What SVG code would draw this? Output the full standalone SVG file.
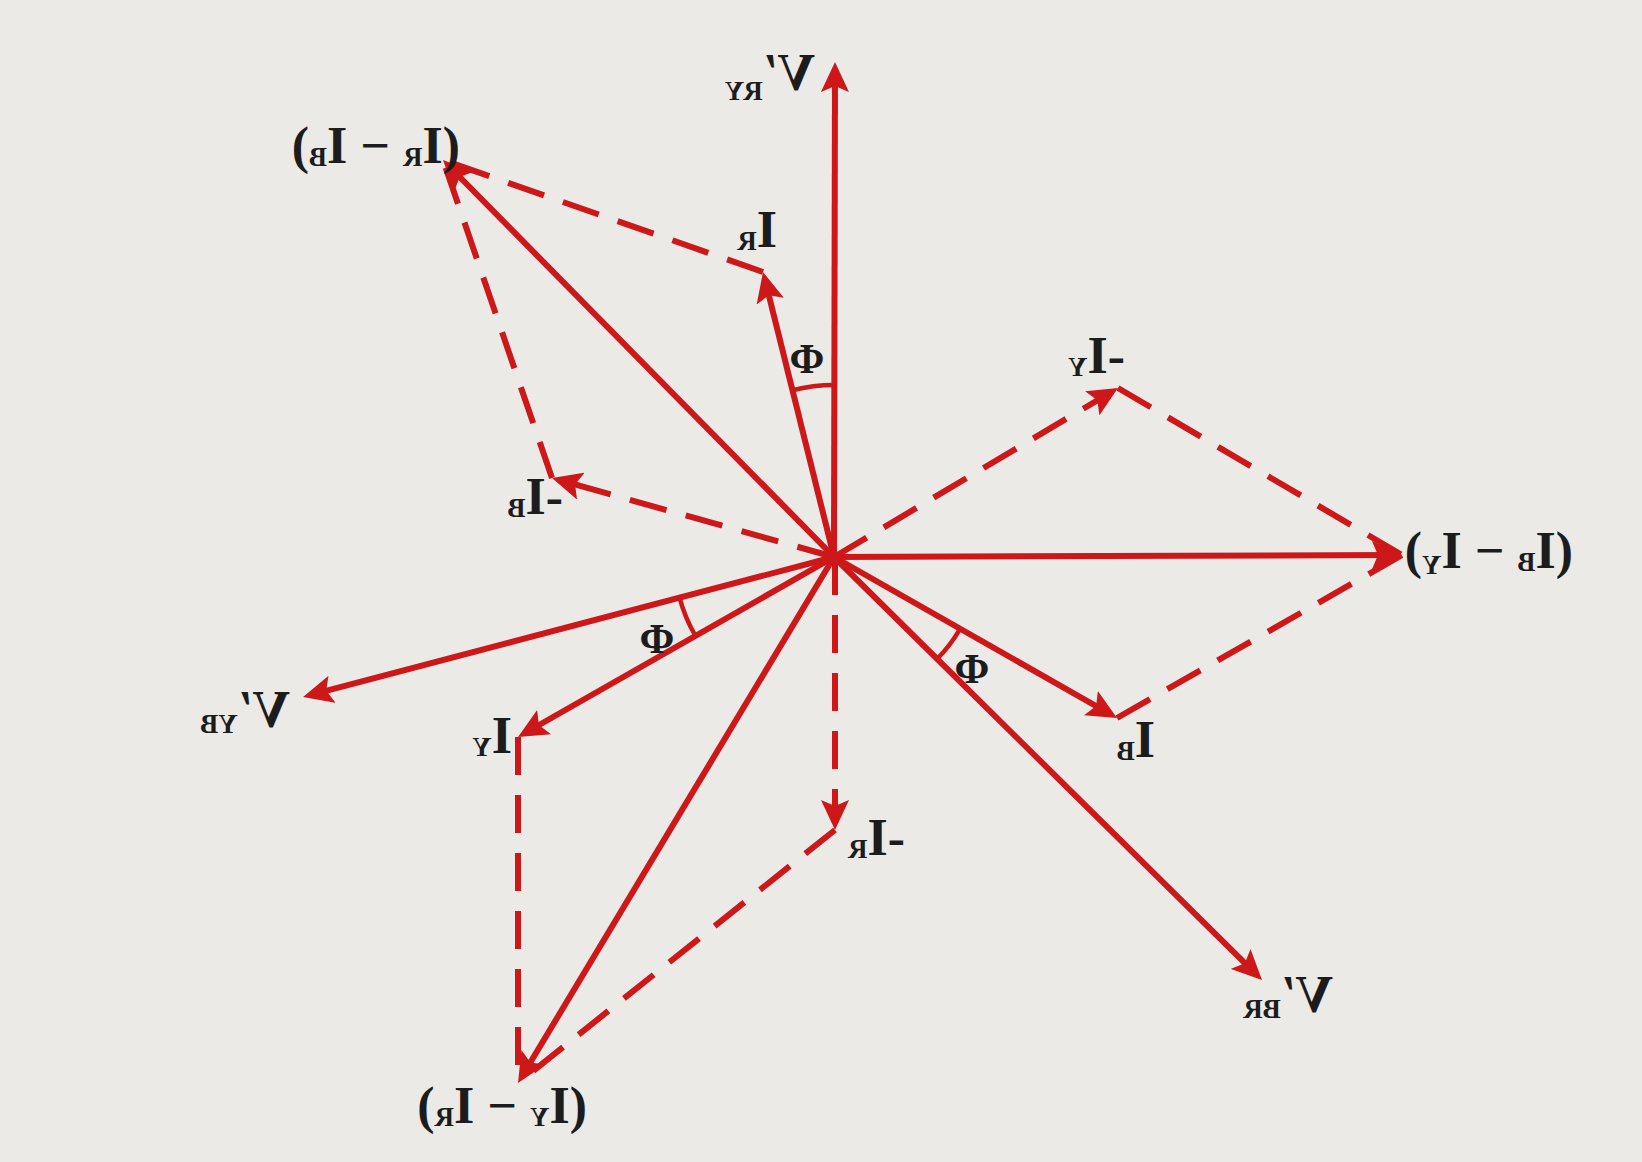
<svg xmlns="http://www.w3.org/2000/svg" width="1642" height="1162" viewBox="0 0 1642 1162">
<style>
.bg{fill:#EBEAE7}
.v{stroke:#CD1719;stroke-width:6;fill:none}
.d{stroke:#CD1719;stroke-width:6;fill:none;stroke-dasharray:38 20}
.arc{stroke:#CD1719;stroke-width:4.5;fill:none}
.lbl{font-family:"Liberation Serif",serif;font-weight:bold;font-size:52px;fill:#1c1c1c}
.sub{font-size:27px}
.phi{font-family:"Liberation Serif",serif;font-weight:bold;font-size:42px;fill:#1c1c1c;text-anchor:middle}
</style>
<defs>
<marker id="ah" viewBox="0 0 30 28" refX="23" refY="14" markerWidth="30" markerHeight="28" markerUnits="userSpaceOnUse" orient="auto">
<path d="M0,0 L30,14 L0,28 L6,14 Z" fill="#CD1719"/>
</marker>
</defs>
<rect class="bg" x="0" y="0" width="1642" height="1162"/>
<g id="connectors">
<line class="v" x1="834" y1="557" x2="835" y2="69" marker-end="url(#ah)"/>
<line class="v" x1="834" y1="557" x2="447.9" y2="165" marker-end="url(#ah)"/>
<line class="v" x1="834" y1="557" x2="764.7" y2="278.8" marker-end="url(#ah)"/>
<line class="v" x1="834" y1="557" x2="1395" y2="555" marker-end="url(#ah)"/>
<line class="v" x1="834" y1="557" x2="1110.9" y2="714.5" marker-end="url(#ah)"/>
<line class="v" x1="834" y1="557" x2="1257" y2="975.1" marker-end="url(#ah)"/>
<line class="v" x1="834" y1="557" x2="521.6" y2="1077" marker-end="url(#ah)"/>
<line class="v" x1="834" y1="557" x2="524.1" y2="733.5" marker-end="url(#ah)"/>
<line class="v" x1="834" y1="557" x2="309.8" y2="695.2" marker-end="url(#ah)"/>
<line class="d" x1="834" y1="557" x2="558.7" y2="479.9" marker-end="url(#ah)"/>
<line class="d" x1="834" y1="557" x2="1112" y2="391.6" marker-end="url(#ah)"/>
<line class="d" x1="835" y1="557" x2="835" y2="823" marker-end="url(#ah)"/>
<line class="d" x1="763" y1="272" x2="443" y2="160"/>
<line class="d" x1="552" y1="478" x2="443" y2="160"/>
<line class="d" x1="1118" y1="388" x2="1402" y2="555"/>
<line class="d" x1="1117" y1="718" x2="1402" y2="555"/>
<line class="d" x1="835" y1="830" x2="518" y2="1083"/>
<line class="d" x1="518" y1="737" x2="518" y2="1083"/>
<path class="arc" d="M835,385 A172,172 0 0 0 792.4,390.2"/>
<path class="arc" d="M679.4,597.1 A160,160 0 0 0 695.2,635.5"/>
<path class="arc" d="M959.9,629.1 A145,145 0 0 1 937,659"/>
</g>
<g id="phi-labels">
<text class="phi" x="807" y="373">Φ</text>
<text class="phi" x="657" y="653">Φ</text>
<text class="phi" x="972" y="683">Φ</text>
</g>
<g id="n-VRY"><text class="lbl" transform="translate(815,90) scale(-1,1)">V′<tspan class="sub" dy="10">RY</tspan></text></g>
<g id="n-IRIB"><text class="lbl" transform="translate(460,163) scale(-1,1)">(I<tspan class="sub" dy="3">R</tspan><tspan dy="-3"> − I</tspan><tspan class="sub" dy="3">B</tspan><tspan dy="-3">)</tspan></text></g>
<g id="n-IR"><text class="lbl" transform="translate(777,247) scale(-1,1)">I<tspan class="sub" dy="3">R</tspan></text></g>
<g id="n-mIB"><text class="lbl" transform="translate(563,514) scale(-1,1)">-I<tspan class="sub" dy="3">B</tspan></text></g>
<g id="n-mIY"><text class="lbl" transform="translate(1125,373) scale(-1,1)">-I<tspan class="sub" dy="3">Y</tspan></text></g>
<g id="n-IBIY"><text class="lbl" transform="translate(1573,568) scale(-1,1)">(I<tspan class="sub" dy="3">B</tspan><tspan dy="-3"> − I</tspan><tspan class="sub" dy="6">Y</tspan><tspan dy="-6">)</tspan></text></g>
<g id="n-IB"><text class="lbl" transform="translate(1155,757) scale(-1,1)">I<tspan class="sub" dy="3">B</tspan></text></g>
<g id="n-VBR"><text class="lbl" transform="translate(1333,1012) scale(-1,1)">V′<tspan class="sub" dy="6">BR</tspan></text></g>
<g id="n-mIR"><text class="lbl" transform="translate(905,855) scale(-1,1)">-I<tspan class="sub" dy="3">R</tspan></text></g>
<g id="n-IY"><text class="lbl" transform="translate(512,753) scale(-1,1)">I<tspan class="sub" dy="3">Y</tspan></text></g>
<g id="n-VYB"><text class="lbl" transform="translate(290,727) scale(-1,1)">V′<tspan class="sub" dy="6">YB</tspan></text></g>
<g id="n-IYIR"><text class="lbl" transform="translate(587,1123) scale(-1,1)">(I<tspan class="sub" dy="3">Y</tspan><tspan dy="-3"> − I</tspan><tspan class="sub" dy="3">R</tspan><tspan dy="-3">)</tspan></text></g>
</svg>
